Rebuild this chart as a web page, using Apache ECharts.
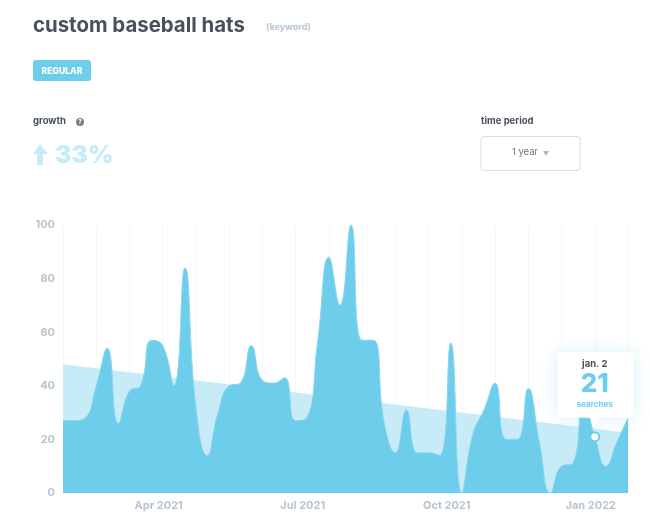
<!DOCTYPE html>
<html>
<head>
<meta charset="utf-8">
<style>
html, body { margin: 0; padding: 0; background: #fff; }
#chart { width: 650px; height: 523px; }
</style>
<script src="https://cdn.jsdelivr.net/npm/echarts@6/dist/echarts.min.js"></script>
</head>
<body>
<div id="chart"></div>
<script>
const weeks = [
	'2021-01-31', '2021-02-07', '2021-02-14', '2021-02-21', '2021-02-28', '2021-03-07', '2021-03-14',
	'2021-03-21', '2021-03-28', '2021-04-04', '2021-04-11', '2021-04-18', '2021-04-25', '2021-05-02',
	'2021-05-09', '2021-05-16', '2021-05-23', '2021-05-30', '2021-06-06', '2021-06-13', '2021-06-20',
	'2021-06-27', '2021-07-04', '2021-07-11', '2021-07-18', '2021-07-25', '2021-08-01', '2021-08-08',
	'2021-08-15', '2021-08-22', '2021-08-29', '2021-09-05', '2021-09-12', '2021-09-19', '2021-09-26',
	'2021-10-03', '2021-10-10', '2021-10-17', '2021-10-24', '2021-10-31', '2021-11-07', '2021-11-14',
	'2021-11-21', '2021-11-28', '2021-12-05', '2021-12-12', '2021-12-19', '2021-12-26', '2022-01-02',
	'2022-01-09', '2022-01-16', '2022-01-23'
];
const searches = [
	27, 27, 28, 40, 54, 26, 38, 40, 57, 55, 40, 84, 32,
	14, 30, 40, 41, 55, 42, 41, 43, 27, 28, 57, 88, 70,
	100, 57, 57, 26, 15, 31, 15, 15, 14, 56, 0, 22, 31,
	41, 20, 20, 39, 19, 0, 10, 11, 34, 21, 10, 19, 28
];
const trendStart = 48;
const trendEnd = 22.5;
const tickWeeks = ['2021-04-04', '2021-07-04', '2021-10-03', '2022-01-02'];
const tickLabels = ['Apr 2021', 'Jul 2021', 'Oct 2021', 'Jan 2022'];
const focusWeek = '2022-01-02';
const focusValue = 21;

const FONT = 'Inter, "Open Sans", sans-serif';
const BLUE = '#6fcdec';
const LIGHT = '#c7ecf8';
const DARK = '#47525e';
const MUTED = '#b6c4d2';

var myChart = echarts.init(document.getElementById('chart'));

function headerText(x, y, text, size, weight, fill, align) {
	return {
		type: 'text',
		x: x,
		y: y,
		z: 100,
		style: {
			text: text,
			fontFamily: FONT,
			fontSize: size,
			fontWeight: weight,
			fill: fill,
			align: align || 'left',
			verticalAlign: 'middle'
		}
	};
}

var option = {
	animation: false,
	backgroundColor: '#fff',
	grid: { left: 63, right: 22, top: 225, bottom: 30 },
	xAxis: {
		type: 'category',
		boundaryGap: false,
		data: weeks,
		axisLine: { show: false },
		axisTick: { show: false },
		axisLabel: {
			interval: (index, value) => tickWeeks.includes(value),
			formatter: value => tickLabels[tickWeeks.indexOf(value)],
			color: MUTED,
			fontFamily: FONT,
			fontSize: 11,
			fontWeight: 700,
			margin: 7,
			padding: [0, 8, 0, 0]
		},
		splitLine: {
			show: true,
			interval: index => index % 3 === 0,
			lineStyle: { color: '#f6f7f9', width: 1 }
		}
	},
	yAxis: {
		type: 'value',
		min: 0,
		max: 100,
		interval: 20,
		axisLine: { show: false },
		axisTick: { show: false },
		splitLine: { show: false },
		axisLabel: {
			color: MUTED,
			fontFamily: FONT,
			fontSize: 11,
			fontWeight: 700,
			margin: 8
		}
	},
	series: [
		{
			name: 'trend',
			type: 'line',
			data: [[weeks[0], trendStart], [weeks[weeks.length - 1], trendEnd]],
			symbol: 'none',
			lineStyle: { width: 0 },
			areaStyle: { color: LIGHT, opacity: 1 },
			z: 2
		},
		{
			name: 'searches',
			type: 'line',
			data: searches,
			smooth: 0.5,
			symbol: 'none',
			lineStyle: { width: 1, color: '#86d6f0' },
			areaStyle: { color: BLUE, opacity: 1 },
			z: 3,
			markPoint: {
				silent: true,
				symbol: 'circle',
				symbolSize: 9,
				itemStyle: { color: '#fff', borderColor: BLUE, borderWidth: 2 },
				label: { show: false },
				data: [{ coord: [focusWeek, focusValue] }]
			}
		}
	]
};

option && myChart.setOption(option);

// tooltip card hangs off the focused week, so place it from the chart's own scale
const [px, py] = myChart.convertToPixel({ seriesIndex: 1 }, [focusWeek, focusValue]);

myChart.setOption({
	graphic: [
		headerText(33, 26, 'custom baseball hats', 20.4, 700, DARK),
		headerText(266, 27, '(keyword)', 9, 700, MUTED),
		{
			type: 'rect', z: 99,
			shape: { x: 33, y: 60, width: 58, height: 21, r: 3 },
			style: { fill: BLUE }
		},
		headerText(62, 71, 'REGULAR', 8.6, 800, '#fff', 'center'),
		headerText(33, 121, 'growth', 9.5, 700, DARK),
		{
			type: 'circle', z: 99,
			shape: { cx: 80, cy: 122, r: 4 },
			style: { fill: '#7b7f84' }
		},
		headerText(80, 122, '?', 6, 800, '#fff', 'center'),
		{
			type: 'polygon', z: 99,
			shape: { points: [[40, 144], [48, 154], [43, 154], [43, 165], [37, 165], [37, 154], [33, 154]] },
			style: { fill: LIGHT }
		},
		headerText(55, 156, '33%', 24.6, 900, LIGHT),
		headerText(481, 121, 'time period', 9.5, 700, DARK),
		{
			type: 'rect', z: 99,
			shape: { x: 481, y: 136.5, width: 99, height: 34, r: 3 },
			style: { fill: '#fff', stroke: '#d5dee7', lineWidth: 1 }
		},
		headerText(525, 152, '1 year', 9.5, 400, '#6f7780', 'center'),
		{
			type: 'polygon', z: 101,
			shape: { points: [[543, 151], [549, 151], [546, 156]] },
			style: { fill: '#aab7c4' }
		},
		{
			type: 'rect', z: 99,
			shape: { x: px - 37, y: py - 85, width: 76, height: 66, r: 4 },
			style: { fill: '#fff', shadowBlur: 16, shadowColor: 'rgba(111, 205, 236, 0.3)' }
		},
		{
			type: 'polygon', z: 99,
			shape: { points: [[px - 5, py - 20], [px + 5, py - 20], [px, py - 11]] },
			style: { fill: '#fff' }
		},
		headerText(px, py - 73, 'jan. 2', 9.5, 700, DARK, 'center'),
		headerText(px, py - 53, String(focusValue), 26, 800, BLUE, 'center'),
		headerText(px, py - 32, 'searches', 8, 700, BLUE, 'center')
	]
});
</script>
</body>
</html>
